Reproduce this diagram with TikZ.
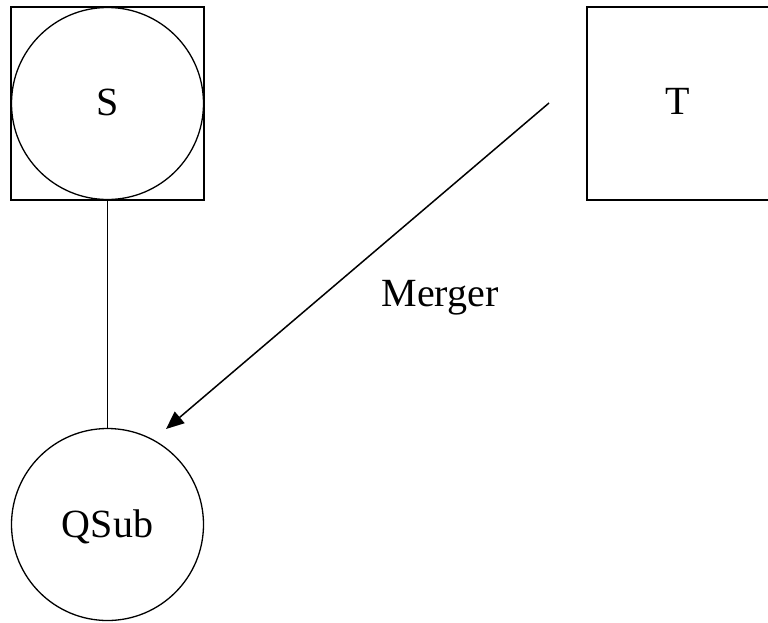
\documentclass[tikz,border=0pt]{standalone}
\usepackage{fontspec}
\setmainfont{Liberation Serif}
\usetikzlibrary{arrows.meta}
\begin{document}
\begin{tikzpicture}[x=1pt,y=-1pt,
  outline/.style={draw, line width=1.3pt, inner sep=0pt},
  box/.style={outline, rectangle, minimum size=193pt},
  ent/.style={outline, circle, minimum size=192pt},
  lbl/.style={font=\fontsize{40}{48}\selectfont, inner sep=0pt, anchor=base},
  link/.style={line width=1.3pt},
  flow/.style={line width=1.5pt, -{Triangle[length=18pt,width=15pt]}}]
\useasboundingbox (0,0) rectangle (768,622);

% source entity: circle inside a square
\node[box] (Sbox) at (107.5,103.5) {};
\node[ent] (S) at (107.5,103.5) {};
\node[lbl] (Slabel) at (107.5,115.5) {S};

% target entity
\node[box] (T) at (683.5,103.5) {};
\node[lbl] (Tlabel) at (678,114) {T};

% resulting entity
\node[ent] (QSub) at (107.5,524.5) {};
\node[lbl] (QSublabel) at (107.5,537) {QSub};

% connectors
\draw[link] (Sbox.south) -- (QSub.north);
\coordinate (mstart) at (549,103);
\coordinate (mend) at (166,429);
\draw[flow] (mstart) -- (mend);
\node[lbl] (merger) at (440,306) {Merger};
\end{tikzpicture}
\end{document}
